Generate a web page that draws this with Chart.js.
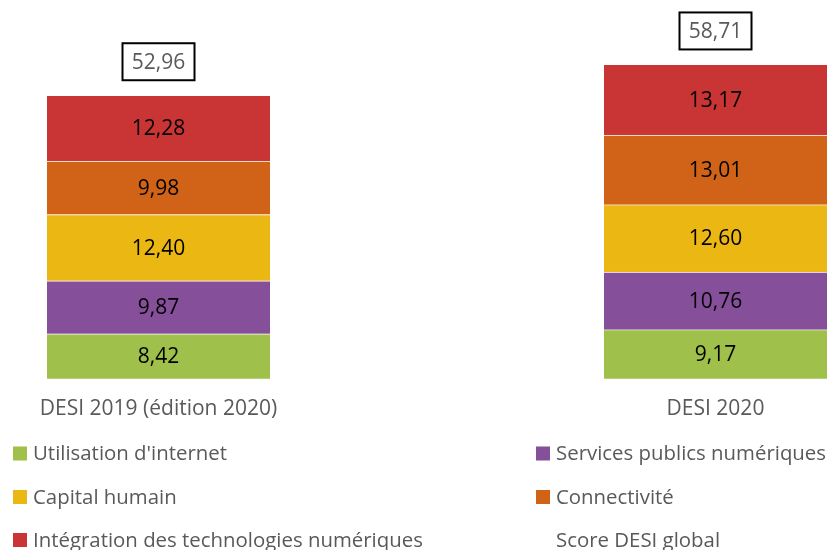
<!DOCTYPE html>
<html>
<head>
<meta charset="utf-8">
<script src="https://cdn.jsdelivr.net/npm/chart.js@4"></script>
<style>
  html, body { margin: 0; padding: 0; background: #fff; }
  #wrap { width: 830px; height: 550px; }
</style>
</head>
<body>
<div id="wrap"><canvas id="graficaDesi" width="830" height="550"></canvas></div>
<script>
// Données DESI
var categories = ['DESI 2019 (édition 2020)', 'DESI 2020'];
var utilisationInternet = [8.42, 9.17];
var servicesPublics = [9.87, 10.76];
var capitalHumain = [12.40, 12.60];
var connectivite = [9.98, 13.01];
var integrationTech = [12.28, 13.17];
var scoreGlobal = [52.96, 58.71];

var police = '"Open Sans", "Noto Sans", sans-serif';
var gris = '#595959';

function virgule(v) { return v.toFixed(2).replace('.', ','); }

function serie(label, data, couleur) {
    return {
        type: 'bar',
        label: label,
        data: data,
        backgroundColor: couleur,
        borderColor: 'rgba(255,255,255,0.35)',
        borderWidth: {top: 1, bottom: 0, left: 0, right: 0},
        borderSkipped: false,
        barThickness: 223,
        clip: false
    };
}

// étiquettes dans les barres + total encadré
var etiquettes = {
    id: 'etiquettes',
    afterDatasetsDraw: function(chart) {
        var ctx = chart.ctx;
        ctx.save();
        ctx.textAlign = 'center';
        ctx.textBaseline = 'middle';
        ctx.font = '21px ' + police;
        chart.data.datasets.forEach(function(ds, i) {
            if (ds.type !== 'bar') return;
            chart.getDatasetMeta(i).data.forEach(function(bar, j) {
                ctx.fillStyle = '#000';
                ctx.fillText(virgule(ds.data[j]), bar.x, (bar.y + bar.base) / 2 + 1);
            });
        });
        var sx = chart.scales.x, sy = chart.scales.y;
        scoreGlobal.forEach(function(v, j) {
            var x = sx.getPixelForValue(j);
            var y = sy.getPixelForValue(v) - 33.5;
            ctx.fillStyle = '#fff';
            ctx.fillRect(x - 36, y - 18.5, 72, 37);
            ctx.lineWidth = 2;
            ctx.strokeStyle = '#000';
            ctx.strokeRect(x - 36, y - 18.5, 72, 37);
            ctx.fillStyle = gris;
            ctx.fillText(virgule(v), x, y + 1);
        });
        ctx.restore();
    }
};

// légende sur deux colonnes
var legende = {
    id: 'legende',
    afterDraw: function(chart) {
        var ctx = chart.ctx;
        var colX = [13, 536];
        var rowY = [453.5, 497, 540];
        ctx.save();
        ctx.font = '20.4px ' + police;
        ctx.textBaseline = 'middle';
        ctx.textAlign = 'left';
        chart.data.datasets.forEach(function(ds, i) {
            var x = colX[i % 2], y = rowY[Math.floor(i / 2)];
            if (ds.type === 'bar') {
                ctx.fillStyle = ds.backgroundColor;
                ctx.fillRect(x, y - 7, 14, 14);
            }
            ctx.fillStyle = gris;
            ctx.fillText(ds.label, x + 20, y + 1);
        });
        ctx.restore();
    }
};

var chart = new Chart(document.getElementById('graficaDesi').getContext('2d'), {
    data: {
        labels: categories,
        datasets: [
            serie("Utilisation d'internet", utilisationInternet, '#9FC04A'),
            serie('Services publics numériques', servicesPublics, '#864F9A'),
            serie('Capital humain', capitalHumain, '#EBB713'),
            serie('Connectivité', connectivite, '#D06317'),
            serie('Intégration des technologies numériques', integrationTech, '#C93434'),
            {
                type: 'line',
                label: 'Score DESI global',
                data: scoreGlobal,
                stack: 'total',
                showLine: false,
                pointRadius: 0,
                pointHoverRadius: 0
            }
        ]
    },
    options: {
        responsive: false,
        animation: false,
        events: [],
        layout: {padding: {top: 4, bottom: 110, left: 158.5, right: 114.5}},
        plugins: {legend: {display: false}, tooltip: {enabled: false}},
        scales: {
            x: {
                stacked: true,
                offset: false,
                grid: {display: false, drawTicks: false},
                border: {display: false},
                ticks: {color: gris, font: {family: police, size: 21}, padding: 18, maxRotation: 0, autoSkip: false}
            },
            y: {
                stacked: true,
                display: false,
                min: 0,
                max: 70
            }
        }
    },
    plugins: [etiquettes, legende]
});
</script>
</body>
</html>
